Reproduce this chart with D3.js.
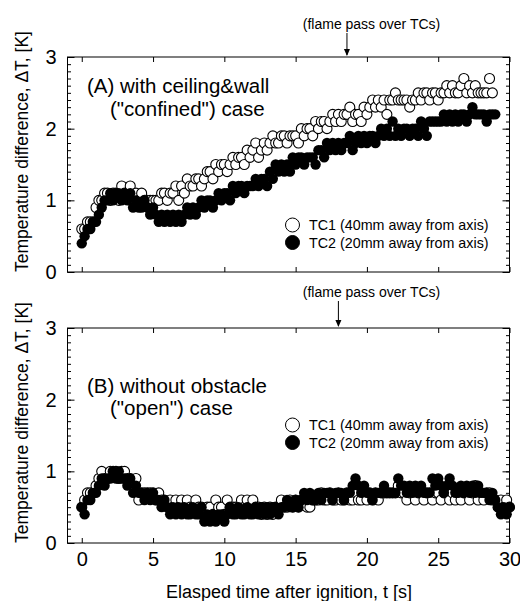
<!DOCTYPE html>
<html lang="en">
<head>
<meta charset="UTF-8">
<title>Temperature difference, confined vs open</title>
<script src="https://d3js.org/d3.v7.min.js"></script>
<style>
    body { margin: 0; background: #fff; }
    svg { font-family: "Liberation Sans", Arial, sans-serif; }
    .axis path { display: none; }
    .axis line { stroke: #000; stroke-width: 1; }
    .axis text { font-size: 20px; fill: #000; }
</style>
</head>
<body>
<svg width="520" height="601"></svg>
<script>
// sample interval of the logger [s]
var dt = 0.2;

var xTicks = [0, 5, 10, 15, 20, 25, 30];
var yTicks = [0, 1, 2, 3];
var flamePass = [18.6, 18.0];   // arrow position [s], panel A and B

// (A) with ceiling & wall, t = 0 ... 28.8 s
var tc1A = [
    0.6,0.6,0.7,0.7,0.7,0.9,1.0,1.0,1.1,1.1,
    1.0,1.1,1.1,1.0,1.2,1.1,1.1,1.2,1.0,1.1,
    1.0,1.1,1.0,1.0,1.0,1.0,1.0,1.0,1.1,1.1,
    1.0,1.1,1.1,1.2,1.0,1.2,1.1,1.3,1.2,1.2,
    1.3,1.3,1.2,1.3,1.4,1.4,1.3,1.5,1.4,1.5,
    1.5,1.4,1.5,1.6,1.5,1.6,1.6,1.5,1.7,1.6,
    1.7,1.8,1.6,1.7,1.8,1.7,1.8,1.9,1.8,1.8,
    1.9,1.9,1.8,1.9,1.9,1.9,1.8,2.0,1.9,2.0,
    2.0,1.9,2.1,2.0,2.1,2.1,2.0,2.1,2.2,2.1,
    2.2,2.1,2.2,2.2,2.3,2.1,2.2,2.2,2.1,2.3,
    2.2,2.3,2.4,2.3,2.4,2.3,2.4,2.2,2.4,2.4,
    2.5,2.4,2.4,2.4,2.4,2.3,2.4,2.4,2.5,2.4,
    2.5,2.5,2.4,2.5,2.5,2.4,2.5,2.5,2.6,2.5,
    2.6,2.5,2.5,2.6,2.7,2.5,2.6,2.5,2.6,2.5,
    2.5,2.5,2.5,2.7,2.5
];
var tc2A = [
    0.4,0.5,0.6,0.6,0.7,0.7,0.8,0.9,1.0,1.0,
    1.1,1.0,1.1,1.1,1.0,1.1,1.0,1.1,0.9,1.0,
    0.9,0.9,1.0,0.9,0.8,0.9,0.8,0.7,0.8,0.7,
    0.8,0.7,0.8,0.7,0.8,0.7,0.8,0.9,0.8,0.9,
    0.8,0.9,1.0,0.9,1.0,1.0,0.9,1.0,1.1,1.0,
    1.1,1.1,1.0,1.2,1.1,1.2,1.2,1.1,1.2,1.2,
    1.2,1.3,1.2,1.3,1.3,1.2,1.4,1.3,1.5,1.4,
    1.5,1.4,1.5,1.4,1.6,1.5,1.6,1.6,1.5,1.6,
    1.6,1.6,1.5,1.7,1.7,1.6,1.8,1.7,1.8,1.7,
    1.8,1.7,1.8,1.8,1.9,1.7,1.8,1.9,1.8,1.9,
    1.8,1.9,1.9,1.8,1.9,2.0,1.9,2.0,1.9,2.1,
    1.9,2.0,1.9,2.0,2.0,1.9,2.0,2.0,1.9,2.1,
    2.0,1.9,2.1,2.1,2.1,2.1,2.1,2.2,2.1,2.2,
    2.1,2.2,2.1,2.2,2.2,2.1,2.2,2.3,2.2,2.2,
    2.2,2.2,2.1,2.2,2.2,2.2
];

// (B) without obstacle, t = 0 ... 30 s
var tc1B = [
    0.5,0.6,0.7,0.7,0.7,0.8,0.9,1.0,0.9,0.9,
    1.0,1.0,1.0,0.9,1.0,1.0,0.9,0.9,0.8,0.9,
    0.6,0.7,0.7,0.7,0.7,0.7,0.6,0.7,0.6,0.6,
    0.5,0.6,0.5,0.6,0.5,0.6,0.5,0.6,0.5,0.5,
    0.6,0.5,0.5,0.4,0.5,0.5,0.4,0.6,0.5,0.5,
    0.4,0.6,0.5,0.5,0.5,0.5,0.6,0.5,0.6,0.5,
    0.6,0.5,0.5,0.4,0.5,0.4,0.5,0.4,0.5,0.5,
    0.6,0.5,0.5,0.6,0.5,0.6,0.5,0.6,0.6,0.5,
    0.5,0.6,0.6,0.6,0.7,0.6,0.6,0.7,0.6,0.6,
    0.7,0.6,0.6,0.7,0.6,0.6,0.7,0.6,0.6,0.7,
    0.6,0.7,0.6,0.7,0.6,0.7,0.7,0.7,0.7,0.7,
    0.7,0.8,0.7,0.7,0.6,0.7,0.7,0.6,0.7,0.7,
    0.6,0.7,0.7,0.6,0.7,0.7,0.6,0.7,0.7,0.6,
    0.7,0.6,0.7,0.6,0.7,0.7,0.6,0.7,0.8,0.6,
    0.7,0.6,0.7,0.7,0.6,0.6,0.5,0.6,0.5,0.6,
    0.5
];
var tc2B = [
    0.5,0.4,0.6,0.6,0.7,0.7,0.8,0.9,0.8,0.9,
    0.9,1.0,0.9,1.0,0.9,0.9,0.8,0.9,0.7,0.8,
    0.7,0.7,0.6,0.7,0.6,0.7,0.6,0.6,0.5,0.6,
    0.5,0.4,0.5,0.4,0.5,0.4,0.5,0.4,0.4,0.5,
    0.4,0.4,0.5,0.3,0.4,0.3,0.4,0.3,0.4,0.4,
    0.3,0.4,0.5,0.4,0.4,0.5,0.4,0.4,0.5,0.4,
    0.4,0.5,0.4,0.5,0.4,0.5,0.4,0.5,0.5,0.4,
    0.5,0.5,0.6,0.5,0.5,0.6,0.5,0.6,0.7,0.6,
    0.7,0.6,0.6,0.7,0.6,0.7,0.7,0.7,0.6,0.7,
    0.7,0.7,0.6,0.7,0.7,0.8,0.9,0.8,0.7,0.8,
    0.7,0.7,0.6,0.7,0.7,0.7,0.8,0.7,0.7,0.7,
    0.7,0.9,0.8,0.8,0.7,0.8,0.7,0.8,0.7,0.8,
    0.7,0.7,0.7,0.9,0.8,0.9,0.8,0.7,0.8,0.9,
    0.8,0.7,0.7,0.8,0.7,0.8,0.7,0.8,0.7,0.8,
    0.7,0.7,0.7,0.6,0.7,0.6,0.5,0.4,0.5,0.4,
    0.5
];

var seriesNames = ["TC1 (40mm away from axis)", "TC2 (20mm away from axis)"];

var svg = d3.select("svg");
var left = 67.5, right = 509.5, ph = 215;

var x = d3.scaleLinear().domain([-1, 30]).range([left, right]);

var panels = [
    { top: 57,  tc1: tc1A, tc2: tc2A, lines: ["(A) with ceiling&wall", "(\"confined\") case"], lx: [87, 110], ly: [93, 116], legY: 225, flame: flamePass[0], noteY: 29, labels: false },
    { top: 328, tc1: tc1B, tc2: tc2B, lines: ["(B) without obstacle", "(\"open\") case"], lx: [87, 110], ly: [393, 415], legY: 425, flame: flamePass[1], noteY: 297, labels: true }
];

panels.forEach(function(p) {
    var y = d3.scaleLinear().domain([0, 3]).range([p.top + ph, p.top]);
    var g = svg.append("g");

    // minor y ticks
    var minor = d3.range(0, 3.001, 0.1);
    g.append("g").attr("class", "axis")
        .attr("transform", "translate(" + left + ",0)")
        .call(d3.axisLeft(y).tickValues(minor).tickSize(-3.5).tickFormat(""));
    g.append("g").attr("class", "axis")
        .attr("transform", "translate(" + right + ",0)")
        .call(d3.axisRight(y).tickValues(minor).tickSize(-3.5).tickFormat(""));

    // major y ticks
    g.append("g").attr("class", "axis")
        .attr("transform", "translate(" + left + ",0)")
        .call(d3.axisLeft(y).tickValues(yTicks).tickSize(-7).tickSizeOuter(0).tickPadding(11).tickFormat(d3.format("d")));
    g.append("g").attr("class", "axis")
        .attr("transform", "translate(" + right + ",0)")
        .call(d3.axisRight(y).tickValues(yTicks).tickSize(-7).tickFormat(""));

    // x ticks
    var xb = d3.axisBottom(x).tickValues(xTicks).tickSize(-5).tickPadding(9);
    if (!p.labels) xb.tickFormat("");
    g.append("g").attr("class", "axis")
        .attr("transform", "translate(0," + (p.top + ph) + ")")
        .call(xb);
    g.append("g").attr("class", "axis")
        .attr("transform", "translate(0," + p.top + ")")
        .call(d3.axisTop(x).tickValues(xTicks).tickSize(-5).tickFormat(""));

    // frame
    g.append("rect")
        .attr("x", left).attr("y", p.top)
        .attr("width", right - left).attr("height", ph)
        .attr("fill", "none").attr("stroke", "#000").attr("stroke-width", 1);

    // data: TC1 open, then TC2 filled
    g.append("g").selectAll("circle")
        .data(p.tc1)
        .enter().append("circle")
        .attr("cx", function(d, i) { return x(i * dt); })
        .attr("cy", function(d) { return y(d); })
        .attr("r", 5)
        .attr("fill", "#fff")
        .attr("stroke", "#000")
        .attr("stroke-width", 1.1);

    g.append("g").selectAll("circle")
        .data(p.tc2)
        .enter().append("circle")
        .attr("cx", function(d, i) { return x(i * dt); })
        .attr("cy", function(d) { return y(d); })
        .attr("r", 5.2)
        .attr("fill", "#000");

    // panel caption
    p.lines.forEach(function(s, k) {
        g.append("text")
            .attr("x", p.lx[k]).attr("y", p.ly[k])
            .attr("font-size", "20.5px")
            .text(s);
    });

    // legend
    seriesNames.forEach(function(s, k) {
        var cy = p.legY + k * 17.5;
        g.append("circle")
            .attr("cx", 292.5).attr("cy", cy).attr("r", 7)
            .attr("fill", k == 0 ? "#fff" : "#000")
            .attr("stroke", "#000").attr("stroke-width", 1);
        g.append("text")
            .attr("x", 309).attr("y", cy + 5)
            .attr("font-size", "14.3px")
            .text(s);
    });

    // flame pass note
    var fx = x(p.flame);
    g.append("text")
        .attr("x", 371.5).attr("y", p.noteY)
        .attr("text-anchor", "middle")
        .attr("font-size", "14px")
        .text("(flame pass over TCs)");
    g.append("line")
        .attr("x1", fx).attr("x2", fx)
        .attr("y1", p.noteY + 4).attr("y2", p.top - 2)
        .attr("stroke", "#000").attr("stroke-width", 1);
    g.append("path")
        .attr("d", "M" + (fx - 3) + "," + (p.top - 8) + "L" + fx + "," + (p.top - 1) + "L" + (fx + 3) + "," + (p.top - 8) + "Z")
        .attr("fill", "#000");

    // y title
    svg.append("text")
        .attr("transform", "translate(28," + (p.top + ph / 2 - 13) + ") rotate(-90)")
        .attr("text-anchor", "middle")
        .attr("font-size", "17.5px")
        .text("Temperature difference, \u0394T, [K]");
});

svg.append("text")
    .attr("x", 289).attr("y", 598)
    .attr("text-anchor", "middle")
    .attr("font-size", "18px")
    .text("Elasped time after ignition, t [s]");
</script>
</body>
</html>
